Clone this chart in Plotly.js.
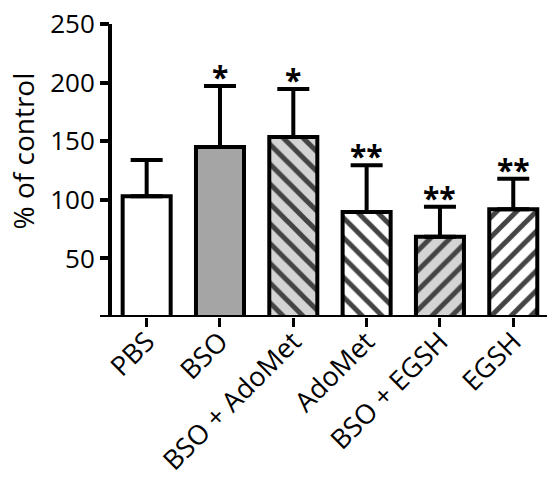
<!DOCTYPE html>
<html>
<head>
<meta charset="utf-8">
<script src="https://cdn.plot.ly/plotly-3.0.1.min.js"></script>
<style>html,body{margin:0;padding:0;background:#fff;}#chart{width:547px;height:483px;}</style>
</head>
<body>
<div id="chart"></div>
<script>
const categories = ['PBS', 'BSO', 'BSO + AdoMet', 'AdoMet', 'BSO + EGSH', 'EGSH'];
const means = [103, 145, 153.5, 89.5, 68.5, 92];
const errors = [31, 52, 41, 40, 25.5, 26];
const stars = ['', '*', '*', '**', '**', '**'];
const fillColors = ['#ffffff', '#a5a5a5', '#d4d4d4', '#ffffff', '#d4d4d4', '#ffffff'];
const hatches = ['', '', '\\', '\\', '/', '/'];
const yTicks = [50, 100, 150, 200, 250];
const yTitle = '% of control';

const FONT = 'Open Sans, Noto Sans, sans-serif';

const trace = {
  type: 'bar',
  x: categories,
  y: means,
  marker: {
    color: fillColors,
    line: {color: '#000', width: 4},
    pattern: {shape: hatches, fillmode: 'overlay', fgcolor: '#000', fgopacity: 1, size: 14, solidity: 0.36}
  },
  error_y: {
    type: 'data', symmetric: false, array: errors,
    arrayminus: errors.map(() => 0),
    color: '#000', thickness: 4, width: 16
  },
  hoverinfo: 'none'
};

const annotations = categories.map((c, i) => ({
  x: c, y: means[i] + errors[i], xref: 'x', yref: 'y',
  text: stars[i], showarrow: false, yanchor: 'bottom', yshift: -13,
  font: {family: FONT, size: 30, color: '#000', weight: 'bold'}
}));
annotations.push({
  xref: 'paper', yref: 'paper', x: -0.2, y: 0.567, xanchor: 'center', yanchor: 'middle',
  text: yTitle, textangle: -90, showarrow: false,
  font: {family: FONT, size: 28, color: '#000'}
});

const layout = {
  width: 547, height: 483,
  margin: {l: 110, r: 0, t: 24, b: 166},
  paper_bgcolor: '#fff', plot_bgcolor: '#fff',
  showlegend: false,
  bargap: 0.345,
  font: {family: FONT, color: '#000'},
  xaxis: {
    type: 'category', range: [-0.5, 5.46],
    showgrid: false, zeroline: false, showline: false,
    ticks: 'outside', ticklen: 9, tickwidth: 3, tickcolor: '#000',
    tickangle: -45, ticklabelstandoff: -12,
    tickfont: {family: FONT, size: 27, color: '#000'}
  },
  yaxis: {
    range: [0, 250], tickvals: yTicks,
    showgrid: false, zeroline: false, showline: false,
    ticks: 'outside', ticklen: 9, tickwidth: 4, tickcolor: '#000',
    tickfont: {family: FONT, size: 26, color: '#000'}
  },
  shapes: [
    {type: 'line', xref: 'paper', yref: 'y', x0: 0, x1: 0, y0: 0, y1: 250, line: {color: '#000', width: 4}},
    {type: 'line', xref: 'paper', yref: 'y', x0: -0.0229, x1: 1, y0: 0, y1: 0, line: {color: '#000', width: 4}}
  ],
  annotations: annotations
};

Plotly.newPlot('chart', [trace], layout, {displayModeBar: false, staticPlot: true});
</script>
</body>
</html>
